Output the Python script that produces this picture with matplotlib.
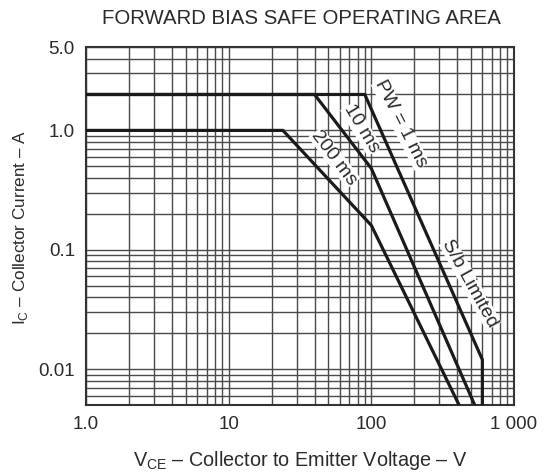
import matplotlib
matplotlib.use("Agg")
import matplotlib.pyplot as plt
from matplotlib.ticker import LogLocator, FixedLocator, NullFormatter

plt.rcParams['font.family'] = ['Liberation Sans', 'DejaVu Sans']
plt.rcParams['mathtext.fontset'] = 'custom'
plt.rcParams['mathtext.rm'] = 'Liberation Sans'

# Data (VCE in V, IC in A)
v_1ms = [1, 90, 600, 600]
i_1ms = [2.0, 2.0, 0.012, 0.005]
v_10ms = [1, 40, 100, 530]
i_10ms = [2.0, 2.0, 0.48, 0.005]
v_200ms = [1, 24, 100, 412]
i_200ms = [1.0, 1.0, 0.16, 0.005]

x_ticks = [1, 10, 100, 1000]
x_ticklabels = ['1.0', '10', '100', '1 000']
y_ticks = [0.01, 0.1, 1.0, 5.0]
y_ticklabels = ['0.01', '0.1', '1.0', '5.0']

labels = ['PW = 1 ms', '10 ms', '200 ms', 'S/b Limited']
label_v = [160, 85, 55, 492]
label_i = [1.13, 1.03, 0.59, 0.052]
label_rot = [-63, -59, -53, -61]

txt = '#2a2a2a'
fig = plt.figure(figsize=(5.44, 4.72), dpi=100)
ax = fig.add_axes([86/544, 1-405/472, 428/544, 358/472])
ax.set_xscale('log')
ax.set_yscale('log')
ax.set_xlim(1, 1000)
ax.set_ylim(0.005, 5.0)

ax.xaxis.set_major_locator(FixedLocator(x_ticks))
ax.set_xticklabels(x_ticklabels)
ax.xaxis.set_minor_locator(LogLocator(base=10, subs=range(2, 10), numticks=20))
ax.xaxis.set_minor_formatter(NullFormatter())
ax.yaxis.set_major_locator(FixedLocator(y_ticks))
ax.set_yticklabels(y_ticklabels)
ax.yaxis.set_minor_locator(LogLocator(base=10, subs=range(2, 10), numticks=20))
ax.yaxis.set_minor_formatter(NullFormatter())

ax.grid(which='both', color='#4a4a4a', linewidth=1.0)
ax.tick_params(which='both', length=0, labelsize=13.5, colors=txt)
ax.tick_params(axis='x', pad=8)
ax.tick_params(axis='y', pad=8)
for s in ax.spines.values():
    s.set_linewidth(1.5)
    s.set_color('#333333')

for v, i in [(v_1ms, i_1ms), (v_10ms, i_10ms), (v_200ms, i_200ms)]:
    ax.plot(v, i, color='#1a1a1a', linewidth=2.3, solid_capstyle='butt', zorder=5)

for lab, lv, li, rot in zip(labels, label_v, label_i, label_rot):
    ax.text(lv, li, lab, rotation=rot, ha='center', va='center', fontsize=14,
            color=txt, rotation_mode='anchor', zorder=4,
            bbox=dict(facecolor='white', edgecolor='none', pad=0.2))

fig.text(301/544, 1-19/472, 'FORWARD BIAS SAFE OPERATING AREA', ha='center',
         va='center', fontsize=14.7, color=txt)
fig.text(300/544, 1-461/472, r'V$_{\mathregular{CE}}$ – Collector to Emitter Voltage – V',
         ha='center', va='center', fontsize=14.3, color=txt)
fig.text(21/544, 1-228/472, r'I$_{\mathregular{C}}$ – Collector Current – A',
         ha='center', va='center', rotation=90, fontsize=12.3, color=txt)

fig.savefig('out.png', dpi=100)
